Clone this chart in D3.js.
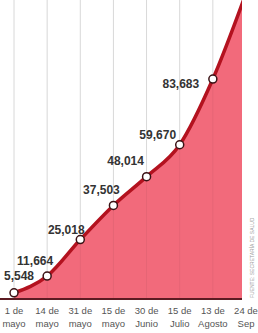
<!DOCTYPE html>
<html>
<head>
<meta charset="utf-8">
<script src="https://cdn.jsdelivr.net/npm/d3@7"></script>
<style>
  html, body { margin: 0; padding: 0; background: #fff; overflow: hidden; }
  svg { display: block; }
</style>
</head>
<body>
<svg id="chart"></svg>
<script>
"use strict";

// dates on the x axis (two lines each)
const dayLabels = ["1 de", "14 de", "31 de", "15 de", "30 de", "15 de", "13 de", "24 de"];
const monthLabels = ["mayo", "mayo", "mayo", "mayo", "Junio", "Julio", "Agosto", "Sep"];
// accumulated values (last one runs off the top of the crop)
const values = [5548, 11664, 25018, 37503, 48014, 59670, 83683, 115000];
const valueLabels = ["5,548", "11,664", "25,018", "37,503", "48,014", "59,670", "83,683", ""];

// where each label sits relative to its point
const labelOffsets = [[5, -17], [-12, -15], [-14, -10], [-12, -15], [-21, -16], [-22, -10], [-32, 5], [0, 0]];

const width = 258;
const height = 333;
const marginTop = 7;
const marginBottom = 34;
const plotRight = 242;
const baseY = height - marginBottom;

const svg = d3.select("#chart")
    .attr("width", width)
    .attr("height", height)
    .attr("viewBox", [0, 0, width, height]);

const x = d3.scalePoint()
    .domain(d3.range(values.length))
    .range([14, 246]);

const y = d3.scaleLinear()
    .domain([3300, 110000])
    .range([baseY, marginTop]);

// title of the page, almost fully cut off at the top
svg.append("text")
    .attr("x", 2)
    .attr("y", 0)
    .attr("font-family", "Liberation Sans Narrow, Liberation Sans, sans-serif")
    .attr("font-weight", "bold")
    .style("font-size", "14px")
    .attr("fill", "#f7b3bb")
    .text("Casos confirmados de Covid-19 hasta agosto");

svg.append("defs").append("clipPath")
    .attr("id", "plot")
    .append("rect")
    .attr("x", 0)
    .attr("y", 0)
    .attr("width", plotRight)
    .attr("height", baseY + 2);

// vertical grid
svg.append("g")
    .selectAll("line")
    .data(d3.range(values.length - 1))
    .join("line")
    .attr("x1", d => x(d))
    .attr("x2", d => x(d))
    .attr("y1", 0)
    .attr("y2", baseY)
    .attr("stroke", "#e4e4e4")
    .attr("stroke-width", 1);

const plot = svg.append("g").attr("clip-path", "url(#plot)");

const area = d3.area()
    .x((d, i) => x(i))
    .y0(baseY)
    .y1(d => y(d))
    .curve(d3.curveMonotoneX);

const line = d3.line()
    .x((d, i) => x(i))
    .y(d => y(d))
    .curve(d3.curveMonotoneX);

plot.append("path")
    .attr("fill", "#f26a7b")
    .attr("d", area(values));

// grid shows faintly through the fill
plot.append("g")
    .selectAll("line")
    .data(d3.range(values.length))
    .join("line")
    .attr("x1", d => x(d))
    .attr("x2", d => x(d))
    .attr("y1", 0)
    .attr("y2", baseY)
    .attr("stroke", "#000")
    .attr("stroke-opacity", 0.05);

// baseline
plot.append("line")
    .attr("x1", 0)
    .attr("x2", plotRight)
    .attr("y1", baseY)
    .attr("y2", baseY)
    .attr("stroke", "#5c1b22")
    .attr("stroke-width", 2);

plot.append("path")
    .attr("fill", "none")
    .attr("stroke", "#b3121f")
    .attr("stroke-width", 3.5)
    .attr("stroke-linecap", "round")
    .attr("d", line(values));

svg.append("g")
    .selectAll("circle")
    .data(values.slice(0, -1))
    .join("circle")
    .attr("cx", (d, i) => x(i))
    .attr("cy", d => y(d))
    .attr("r", 4)
    .attr("fill", "#fff")
    .attr("stroke", "#3a1215")
    .attr("stroke-width", 1.5);

// value labels
svg.append("g")
    .selectAll("text")
    .data(values)
    .join("text")
    .attr("x", (d, i) => x(i) + labelOffsets[i][0])
    .attr("y", (d, i) => y(d) + labelOffsets[i][1] + 4)
    .attr("text-anchor", "middle")
    .attr("font-family", "Liberation Sans Narrow, Liberation Sans, sans-serif")
    .attr("font-weight", "bold")
    .style("font-size", "12px")
    .attr("fill", "#333")
    .text((d, i) => valueLabels[i]);

// x axis labels
const ticks = svg.append("g")
    .selectAll("text")
    .data(d3.range(values.length))
    .join("text")
    .attr("text-anchor", "middle")
    .attr("font-family", "Liberation Sans Narrow, Liberation Sans, sans-serif")
    .style("font-size", "9.5px")
    .attr("fill", "#555");

ticks.append("tspan")
    .attr("x", d => x(d))
    .attr("y", 314)
    .text(d => dayLabels[d]);

ticks.append("tspan")
    .attr("x", d => x(d))
    .attr("y", 327)
    .text(d => monthLabels[d]);

// source, rotated on the right
svg.append("text")
    .attr("transform", `translate(254, 298) rotate(-90)`)
    .attr("font-family", "Liberation Sans Narrow, Liberation Sans, sans-serif")
    .style("font-size", "5px")
    .attr("fill", "#999")
    .text("FUENTE: SECRETARÍA DE SALUD");
</script>
</body>
</html>
